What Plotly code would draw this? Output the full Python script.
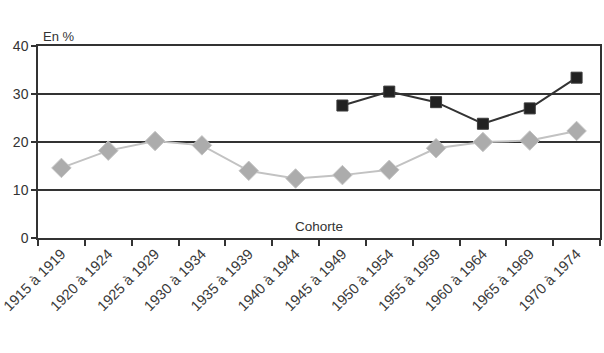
import plotly.graph_objects as go

cohorts = ["1915 à 1919", "1920 à 1924", "1925 à 1929", "1930 à 1934", "1935 à 1939",
           "1940 à 1944", "1945 à 1949", "1950 à 1954", "1955 à 1959", "1960 à 1964",
           "1965 à 1969", "1970 à 1974"]
serie_grise = [14.6, 18.2, 20.2, 19.3, 14.0, 12.4, 13.1, 14.2, 18.7, 20.0, 20.3, 22.3]
serie_noire = [None, None, None, None, None, None, 27.6, 30.5, 28.3, 23.8, 27.0, 33.4]
y_ticks = [0, 10, 20, 30, 40]

font = "Liberation Sans, Arial, sans-serif"

fig = go.Figure()
fig.add_trace(go.Scatter(
    x=cohorts, y=serie_grise, mode="lines+markers",
    line=dict(color="#c2c2c2", width=2),
    marker=dict(symbol="diamond", size=15, color="#acacac", line=dict(color="#c4c4c4", width=1)),
    showlegend=False))
fig.add_trace(go.Scatter(
    x=cohorts, y=serie_noire, mode="lines+markers",
    line=dict(color="#333333", width=2),
    marker=dict(symbol="square", size=11, color="#222222", line=dict(color="#3a3a3a", width=1)),
    showlegend=False))

fig.update_layout(
    width=604, height=353,
    margin=dict(l=38, r=4, t=46, b=115),
    paper_bgcolor="white", plot_bgcolor="white",
    font=dict(family=font, size=12, color="#333333"),
    xaxis=dict(type="category", tickson="boundaries", ticks="outside", ticklen=6,
               tickcolor="#333333", tickwidth=1.5, tickangle=-45, showgrid=False,
               showline=True, linecolor="#333333", linewidth=1.5, mirror=True,
               automargin=False,
               tickfont=dict(size=14.5, color="#3a3a3a"), range=[-0.5, 11.5]),
    yaxis=dict(range=[0, 40], tickvals=y_ticks, ticks="outside", ticklen=5,
               tickcolor="#333333", tickwidth=1.5, showgrid=True, gridcolor="#333333",
               gridwidth=1.5, showline=True, linecolor="#333333", linewidth=1.5,
               mirror=True, zeroline=False, automargin=False,
               tickfont=dict(size=14, color="#333333")),
    annotations=[
        dict(text="En %", xref="paper", yref="paper", x=0.005, y=1.0, xanchor="left",
             yanchor="bottom", showarrow=False, font=dict(size=13, color="#333333")),
        dict(text="Cohorte", xref="paper", yref="paper", x=0.5, y=0.0, xanchor="center",
             yanchor="bottom", yshift=2, showarrow=False, font=dict(size=13.5, color="#333333")),
    ],
)

fig.write_html("out.html")
